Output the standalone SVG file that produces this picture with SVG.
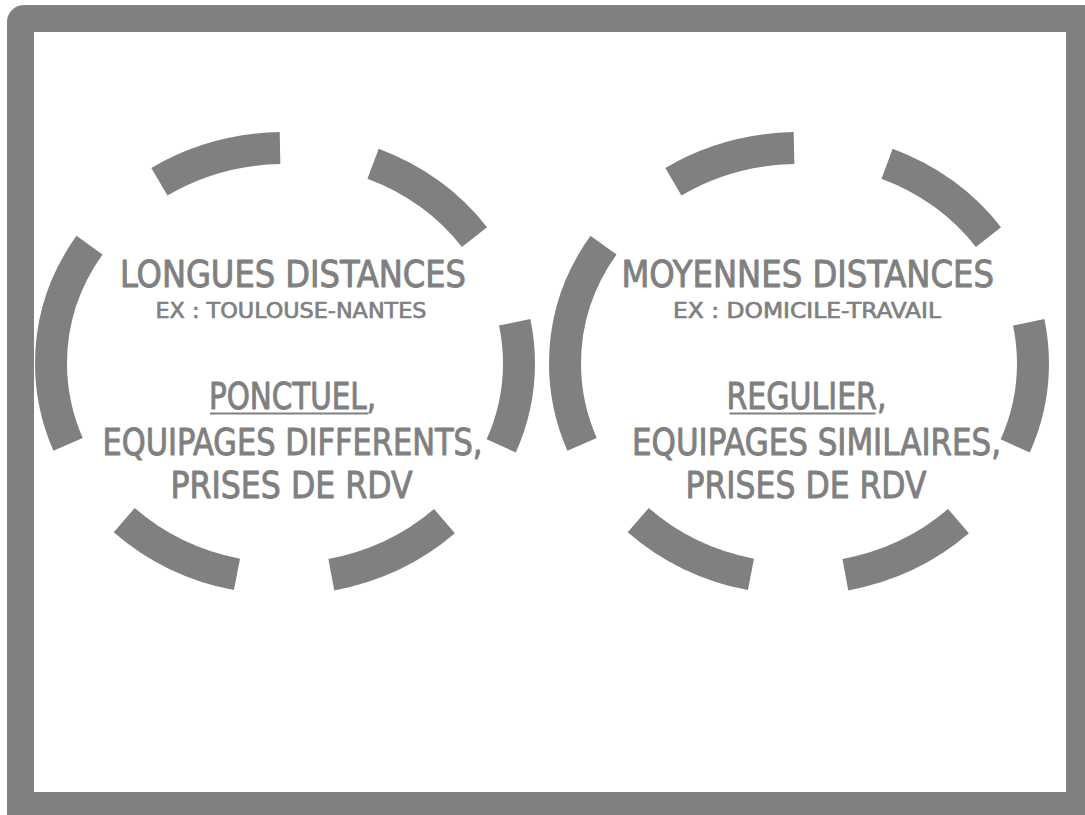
<svg xmlns="http://www.w3.org/2000/svg" width="1085" height="815" viewBox="0 0 1085 815">
  <style>
    .ring { fill: none; stroke: #808080; stroke-width: 32; stroke-dasharray: 126.5 95; }
    .t { font-family: "DejaVu Sans Condensed", "Liberation Sans Narrow", "DejaVu Sans", sans-serif; font-stretch: condensed; fill: #808080; stroke: #808080; stroke-width: 0.9; stroke-linejoin: round; }
    .big { font-size: 37.5px; }
    .small { font-size: 20.6px; stroke-width: 0.6; }
    .ul { stroke: #808080; stroke-width: 2; }
  </style>
  <g id="frame">
    <rect x="7" y="5" width="1100" height="830" rx="17" fill="#808080"/>
    <rect x="34" y="32" width="1032" height="760" fill="#ffffff"/>
  </g>
  <g id="connectors"/>
  <g id="node-longues">
    <path class="ring" d="M 51 363.5 A 234 215.5 0 1 1 519 363.5 A 234 215.5 0 1 1 51 363.5"/>
    <text class="t big" x="120" y="287" textLength="346" lengthAdjust="spacingAndGlyphs">LONGUES DISTANCES</text>
    <text class="t small" x="155.5" y="318.3" textLength="271" lengthAdjust="spacingAndGlyphs">EX : TOULOUSE-NANTES</text>
    <text class="t big" x="209" y="409.3" textLength="167" lengthAdjust="spacingAndGlyphs">PONCTUEL,</text>
    <line class="ul" x1="210" y1="413.5" x2="368.5" y2="413.5"/>
    <text class="t big" x="102.5" y="455" textLength="380" lengthAdjust="spacingAndGlyphs">EQUIPAGES DIFFERENTS,</text>
    <text class="t big" x="170.5" y="498.3" textLength="242" lengthAdjust="spacingAndGlyphs">PRISES DE RDV</text>
  </g>
  <g id="node-moyennes">
    <path class="ring" d="M 565 363.5 A 234 215.5 0 1 1 1033 363.5 A 234 215.5 0 1 1 565 363.5"/>
    <text class="t big" x="621.5" y="287" textLength="372.5" lengthAdjust="spacingAndGlyphs">MOYENNES DISTANCES</text>
    <text class="t small" x="673" y="318.3" textLength="268" lengthAdjust="spacingAndGlyphs">EX : DOMICILE-TRAVAIL</text>
    <text class="t big" x="726.5" y="409.3" textLength="160" lengthAdjust="spacingAndGlyphs">REGULIER,</text>
    <line class="ul" x1="729.5" y1="413.5" x2="875.5" y2="413.5"/>
    <text class="t big" x="632" y="455" textLength="369" lengthAdjust="spacingAndGlyphs">EQUIPAGES SIMILAIRES,</text>
    <text class="t big" x="685.5" y="498.3" textLength="241" lengthAdjust="spacingAndGlyphs">PRISES DE RDV</text>
  </g>
</svg>
